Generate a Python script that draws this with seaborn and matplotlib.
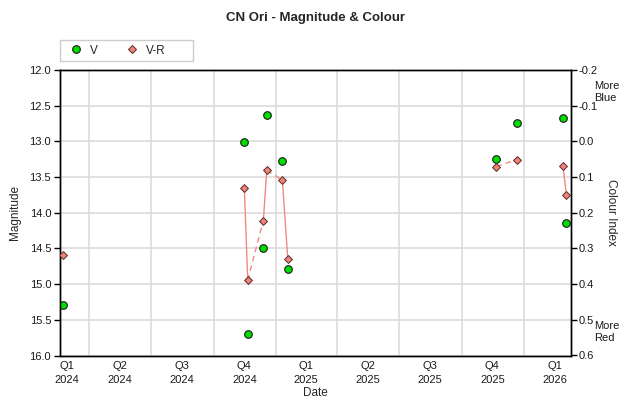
import matplotlib
matplotlib.use("Agg")
import matplotlib.pyplot as plt
import matplotlib.dates as mdates
from matplotlib.lines import Line2D
from matplotlib.patches import Rectangle
import numpy as np
import pandas as pd
import seaborn as sns

# ---------------- data ----------------
obs_dates = ["2024-02-22", "2024-11-15", "2024-11-20", "2024-12-13", "2024-12-18",
             "2025-01-10", "2025-01-18", "2025-11-21", "2025-12-21", "2026-02-27",
             "2026-03-04"]
v_mag = [15.29, 13.01, 15.70, 14.50, 12.63, 13.27, 14.79, 13.25, 12.75, 12.68, 14.15]
v_r = [0.319, 0.130, 0.389, 0.222, 0.081, 0.109, 0.331, 0.071, 0.051, 0.070, 0.151]

quarter_labels = ["Q1\n2024", "Q2\n2024", "Q3\n2024", "Q4\n2024", "Q1\n2025",
                  "Q2\n2025", "Q3\n2025", "Q4\n2025", "Q1\n2026"]
quarter_label_dates = ["2024-02-28", "2024-05-16", "2024-08-15", "2024-11-15",
                       "2025-02-14", "2025-05-16", "2025-08-15", "2025-11-15",
                       "2026-02-15"]
x_range = ["2024-02-17", "2026-03-10"]
mag_ticks = [12.0, 12.5, 13.0, 13.5, 14.0, 14.5, 15.0, 15.5, 16.0]
ci_ticks = [-0.2, -0.1, 0.0, 0.1, 0.2, 0.3, 0.4, 0.5, 0.6]

df = pd.DataFrame({"date": pd.to_datetime(obs_dates), "V": v_mag, "VR": v_r})

# ---------------- style ----------------
sns.set_theme(style="white")
plt.rcParams["font.family"] = ["Liberation Sans", "DejaVu Sans"]
plt.rcParams["font.size"] = 8

GREEN = "#00DD00"
SALMON = "#EE8377"
LINE = "#F08A80"
GRID = "#DCDCDC"

fig = plt.figure(figsize=(6.3, 4.05), dpi=100)
ax = fig.add_axes([59.5 / 630, 1 - 355.5 / 405, 511 / 630, 285.6 / 405])
ax2 = ax.twinx()
ax2.patch.set_visible(False)

# V magnitudes (left axis)
sns.scatterplot(data=df, x="date", y="V", ax=ax, color=GREEN, edgecolor="#1a1a1a",
                linewidth=0.8, s=30, zorder=3, legend=False)

# V-R connecting segments (right axis)
for i in range(len(df) - 1):
    gap = (df["date"].iloc[i + 1] - df["date"].iloc[i]).days
    if gap > 45:
        continue
    ls = "-" if gap <= 10 else (0, (4, 3))
    ax2.plot(df["date"].iloc[i:i + 2], df["VR"].iloc[i:i + 2], color=LINE,
             lw=1.0, ls=ls, zorder=2)

sns.scatterplot(data=df, x="date", y="VR", ax=ax2, color=SALMON, marker="D",
                edgecolor="#5a2a2a", linewidth=0.7, s=16, zorder=4, legend=False)

# ---------------- axes ----------------
ax.set_xlim(pd.Timestamp(x_range[0]), pd.Timestamp(x_range[1]))
ax.set_ylim(16.0, 12.0)
ax2.set_ylim(0.6, -0.2)

ax.set_yticks(mag_ticks)
ax.set_yticklabels([f"{t:.1f}" for t in mag_ticks])
ax2.set_yticks(ci_ticks)
ax2.set_yticklabels([f"{t:.1f}" for t in ci_ticks])

ax.xaxis.set_major_locator(mdates.MonthLocator(bymonth=[1, 4, 7, 10]))
ax.xaxis.set_major_formatter(plt.NullFormatter())
ax.set_xticks(pd.to_datetime(quarter_label_dates), minor=True)
ax.set_xticklabels(quarter_labels, minor=True)
for lbl in ax.get_xticklabels(minor=True):
    lbl.set_linespacing(1.45)
ax.tick_params(axis="x", which="major", direction="out", length=7, width=1,
               color="black")
ax.tick_params(axis="x", which="minor", length=0, pad=4, labelsize=8,
               colors="#1a1a1a")
ax.tick_params(axis="y", direction="out", length=4, width=1, pad=2, labelsize=8,
               color="black", labelcolor="#1a1a1a", left=True)
ax2.tick_params(axis="y", direction="out", length=4, width=1, pad=2, labelsize=8,
                color="black", labelcolor="#1a1a1a", right=True)

ax.grid(True, which="major", color=GRID, lw=1.2)
ax.set_axisbelow(True)
ax2.grid(False)

for a in (ax, ax2):
    for sp in a.spines.values():
        sp.set_color("black")
        sp.set_linewidth(1)

ax.set_xlabel("Date", fontsize=8.5, va="center")
ax.xaxis.set_label_coords(0.5, -0.133)
ax.set_ylabel("Magnitude", fontsize=8.5, va="center")
ax.yaxis.set_label_coords(-0.087, 0.5)
ax2.set_ylabel("Colour Index", fontsize=8.5, rotation=270, va="center")
ax2.yaxis.set_label_coords(1.079, 0.5)

fig.text(594 / 630, 1 - 81 / 405, "More\nBlue", ha="left", va="top", fontsize=8,
         linespacing=1.3, color="#1a1a1a")
fig.text(594 / 630, 1 - 321 / 405, "More\nRed", ha="left", va="top", fontsize=8,
         linespacing=1.3, color="#1a1a1a")

fig.suptitle("CN Ori - Magnitude & Colour", x=0.5, y=1 - 18 / 405, va="center",
             fontsize=9.5, fontweight="bold")

# ---------------- legend ----------------
handles = [
    Line2D([], [], ls="none", marker="o", markersize=5.5, markerfacecolor=GREEN,
           markeredgecolor="#1a1a1a", markeredgewidth=0.8),
    Line2D([], [], ls="none", marker="D", markersize=4, markerfacecolor=SALMON,
           markeredgecolor="#5a2a2a", markeredgewidth=0.7),
]
fig.legend(handles, ["V", "V-R"], loc="center left",
           bbox_to_anchor=(64.6 / 630, 1 - 50.5 / 405), ncol=2, frameon=False,
           borderpad=0, borderaxespad=0, handlelength=2.0, handletextpad=0.15,
           columnspacing=1.9, fontsize=8.5)
fig.patches.append(Rectangle((60 / 630, 1 - 60.7 / 405), 133 / 630, 20.7 / 405,
                             transform=fig.transFigure, fill=False,
                             edgecolor="#CCCCCC", lw=1))

fig.savefig("out.png", dpi=100)
